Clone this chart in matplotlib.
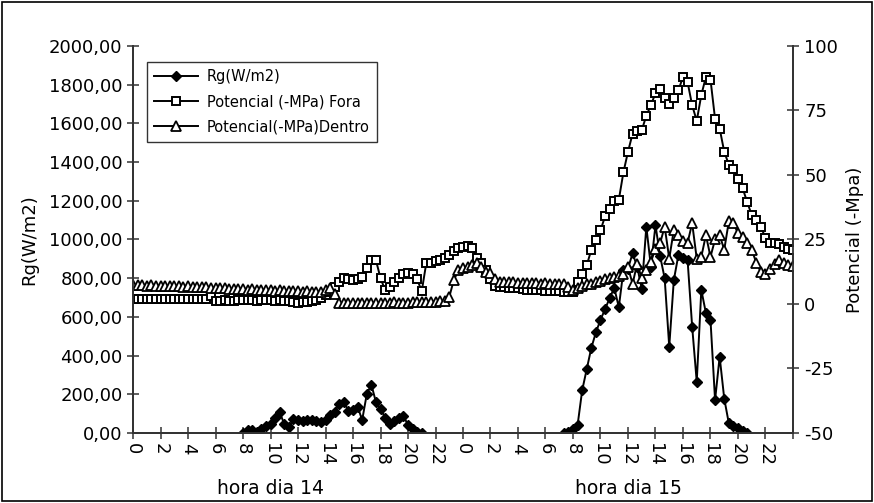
import numpy as np
import matplotlib
matplotlib.use("Agg")
import matplotlib.pyplot as plt
import matplotlib.transforms as mtransforms
from matplotlib.patches import Rectangle

# ---------------- data (20-min steps, hours 0..48) ----------------
hours = np.arange(145) / 3.0

rg = [None] * 24 + [
    0, 15, 15, 6, 20, 35, 45, 75, 108, 45, 33, 70,
    67, 64, 66, 67, 64, 59, 68, 95, 110, 150, 160, 115,
    120, 136, 67, 200, 250, 160, 125, 80, 45, 60, 75, 90,
    40, 18, 5, 0,
] + [None] * 30 + [
    0, 5, 20, 40, 220, 330, 440, 520, 585, 640, 697, 750,
    650, 840, 850, 928, 860, 745, 1066, 860, 1074, 915, 800, 446,
    790, 920, 905, 894, 550, 265, 739, 620, 584, 170, 394, 178,
    50, 36, 26, 12, 0,
] + [None] * 10

fora = [
    2.0, 2.1, 2.0, 1.9, 2.0, 2.1, 2.0, 2.0, 1.9, 2.0, 2.1, 2.0,
    2.0, 1.9, 2.0, 2.0, 2.1, 3.2, 1.3, 1.2, 1.4, 1.3, 1.2, 1.4,
    1.5, 1.4, 1.5, 1.3, 1.4, 1.5, 1.4, 1.3, 1.4, 1.2, 1.0, 0.6,
    0.5, 0.6, 0.8, 1.0, 1.5, 2.5, 3.5, 4.5, 6.5, 8.5, 10.0, 9.5,
    9.3, 9.8, 10.5, 14.0, 17.0, 17.0, 10.0, 5.4, 6.6, 8.5, 10.0, 11.5,
    12.0, 11.5, 9.5, 5.0, 16.0, 16.0, 16.5, 17.0, 18.0, 19.0, 20.5, 21.7,
    22.0, 22.3, 21.7, 18.0, 16.0, 13.0, 9.5, 7.0, 6.5, 6.5, 6.3, 6.2,
    6.0, 5.8, 5.6, 5.5, 5.4, 5.3, 5.2, 5.0, 5.0, 4.9, 4.8, 4.6,
    4.7, 8.5, 11.5, 15.0, 21.0, 24.8, 28.5, 34.0, 37.0, 40.0, 40.4, 51.0,
    59.0, 66.0, 67.0, 67.3, 73.0, 77.0, 81.8, 83.2, 80.0, 77.5, 80.0, 82.8,
    88.0, 86.0, 77.0, 71.0, 81.0, 88.0, 87.0, 71.7, 68.0, 59.0, 54.0, 52.5,
    48.5, 45.0, 39.5, 34.5, 32.5, 30.0, 25.5, 23.5, 23.5, 23.3, 22.2, 21.3,
    21.1,
]

dentro = [
    7.4, 7.2, 7.3, 7.1, 7.2, 7.0, 7.1, 6.9, 7.0, 6.8, 6.9, 6.7,
    6.8, 6.6, 6.5, 6.6, 6.4, 6.3, 6.2, 6.1, 6.0, 5.9, 5.8, 5.9,
    5.7, 5.6, 5.7, 5.5, 5.4, 5.5, 5.3, 5.2, 5.3, 5.1, 5.0, 5.1,
    4.9, 4.8, 4.9, 4.8, 4.7, 4.8, 5.5, 6.0, 4.0, 0.5, 0.3, 0.4,
    0.5, 0.4, 0.3, 0.4, 0.5, 0.4, 0.3, 0.4, 0.5, 0.6, 0.5, 0.4,
    0.5, 0.6, 0.7, 0.8, 0.7, 0.9, 0.8, 1.0, 1.2, 2.7, 9.3, 13.0,
    14.0, 14.5, 15.2, 16.0, 14.5, 12.4, 12.0, 9.5, 8.6, 8.5, 8.4, 8.5,
    8.3, 8.2, 8.3, 8.1, 8.0, 7.9, 8.0, 7.8, 7.7, 7.8, 7.6, 6.5,
    5.5, 6.0, 7.0, 7.8, 7.8, 8.5, 9.1, 9.8, 10.1, 10.4, 10.7, 11.7,
    14.3, 7.8, 15.6, 10.0, 13.0, 16.3, 21.5, 23.5, 30.0, 17.6, 28.7, 26.7,
    24.5, 23.7, 31.3, 17.6, 18.3, 26.7, 18.3, 25.0, 26.7, 21.0, 32.0, 31.3,
    27.4, 26.0, 23.5, 21.0, 16.0, 12.4, 11.7, 13.5, 15.6, 17.0, 16.0, 15.0,
    14.6,
]

x_ticks = list(range(0, 50, 2))
x_tick_labels = ["0", "2", "4", "6", "8", "10", "12", "14", "16", "18", "20", "22",
                 "0", "2", "4", "6", "8", "10", "12", "14", "16", "18", "20", "22", ""]
left_ticks = list(range(0, 2001, 200))
right_ticks = [-50, -25, 0, 25, 50, 75, 100]
day_labels = ["hora dia 14", "hora dia 15"]
day_label_pos = [10, 36]

series_names = ["Rg(W/m2)", "Potencial (-MPa) Fora", "Potencial(-MPa)Dentro"]

# ---------------- plotting ----------------
rg_arr = np.array([np.nan if v is None else v for v in rg], dtype=float)

plt.rcParams["font.family"] = ["DejaVu Sans"]
fig = plt.figure(figsize=(8.74, 5.03), dpi=100)
ax = fig.add_axes([0.1522, 0.1392, 0.7551, 0.7694])
ax2 = ax.twinx()

axis_col = "#333333"
l1, = ax.plot(hours, rg_arr, color="black", lw=1.4, marker="D", ms=5,
              mfc="black", mec="black", label=series_names[0])
l2, = ax2.plot(hours, fora, color="black", lw=1.4, marker="s", ms=6,
               mfc="white", mec="black", mew=1.4, label=series_names[1])
l3, = ax2.plot(hours, dentro, color="black", lw=1.4, marker="^", ms=6.5,
               mfc="white", mec="black", mew=1.3, label=series_names[2])

ax.set_xlim(0, 48)
ax.set_ylim(0, 2000)
ax2.set_ylim(-50, 100)

ax.set_xticks(x_ticks)
ax.set_xticklabels(x_tick_labels, rotation=-90, fontsize=13)
ax.set_yticks(left_ticks)
ax.set_yticklabels([f"{v:.2f}".replace(".", ",") for v in left_ticks], fontsize=13)
ax2.set_yticks(right_ticks)
ax2.set_yticklabels([str(v) for v in right_ticks], fontsize=13)

for a in (ax, ax2):
    a.spines["top"].set_visible(False)
    for s in ("left", "right", "bottom"):
        a.spines[s].set_color(axis_col)
        a.spines[s].set_linewidth(1.3)
    a.tick_params(direction="inout", length=8, width=1.1, color=axis_col)
ax.tick_params(axis="x", pad=3)
ax2.tick_params(axis="y", pad=4)

ax.set_ylabel("Rg(W/m2)", fontsize=13, labelpad=8)
ax2.set_ylabel("Potencial (-Mpa)", fontsize=13, labelpad=6)

trans = mtransforms.blended_transform_factory(ax.transData, fig.transFigure)
for lab, pos in zip(day_labels, day_label_pos):
    ax.text(pos, 0.028, lab, transform=trans, ha="center", va="center", fontsize=13.5)

leg = ax2.legend(handles=[l1, l2, l3], loc="upper left",
                 bbox_to_anchor=(0.021, 0.959), borderaxespad=0.0,
                 fontsize=10.5, frameon=True,
                 fancybox=False, edgecolor="black", handlelength=3.0,
                 borderpad=0.5, labelspacing=0.7, handletextpad=0.6)
leg.get_frame().set_linewidth(1.0)

fig.patches.append(Rectangle((0.002, 0.003), 0.996, 0.994, transform=fig.transFigure,
                             fill=False, edgecolor="black", lw=1.2))

fig.savefig("out.png", dpi=100)
